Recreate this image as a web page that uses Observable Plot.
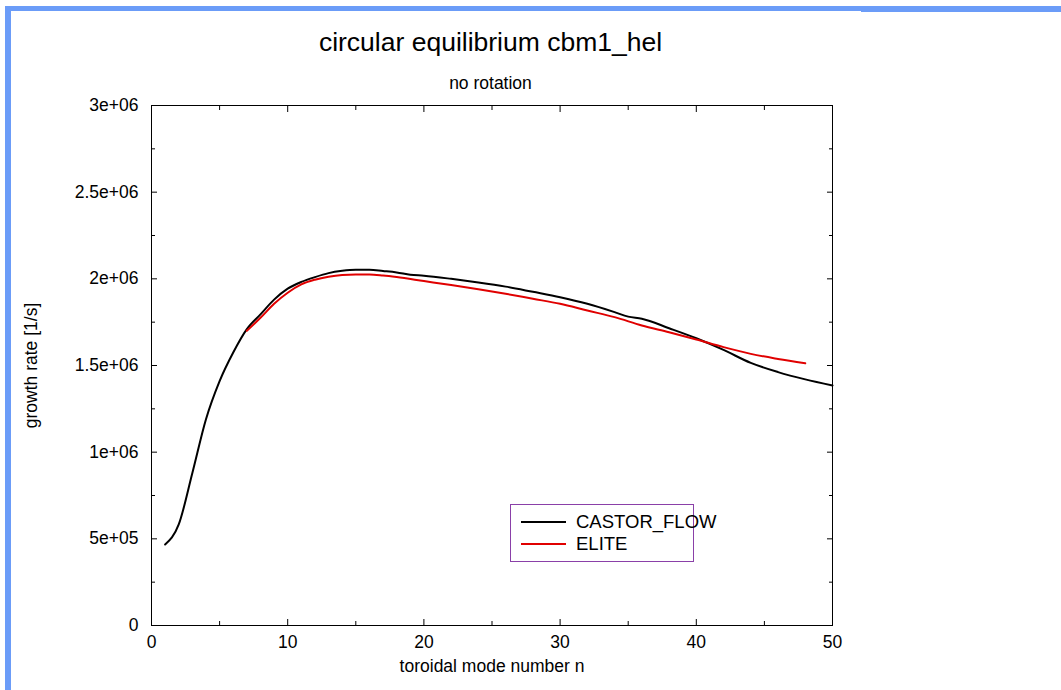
<!DOCTYPE html>
<html>
<head>
<meta charset="utf-8">
<script src="https://cdn.jsdelivr.net/npm/d3@7"></script>
<script src="https://cdn.jsdelivr.net/npm/@observablehq/plot@0.6"></script>
<style>
  html, body { margin: 0; padding: 0; background: #fff; }
  #wrap { position: relative; width: 1061px; height: 690px; overflow: hidden; font-family: "Liberation Sans", Arial, sans-serif; color: #000; }
  #wrap svg.plot { position: absolute; left: 0; top: 0; }
  .bar-top { position: absolute; left: 5px; top: 6px; width: 1056px; height: 5px; background: #6b9cf8; }
  .bar-top2 { position: absolute; left: 861px; top: 11px; width: 200px; height: 1px; background: #6b9cf8; }
  .bar-left { position: absolute; left: 5px; top: 6px; width: 6px; height: 684px; background: #6b9cf8; }
  .title { position: absolute; left: 0; width: 981px; text-align: center; top: 27px; font-size: 26.5px; }
  .subtitle { position: absolute; left: 0; width: 981px; text-align: center; top: 73px; font-size: 17.5px; }
  .legend { position: absolute; left: 510px; top: 504px; width: 182px; height: 56px; border: 1px solid #8a40a8; box-sizing: content-box; }
  .legend .row { position: absolute; left: 10px; height: 20px; font-size: 18.5px; white-space: nowrap; }
  .legend .row span.sw { position: absolute; left: 0; top: 9px; width: 45px; height: 2px; }
  .legend .row span.lab { position: absolute; left: 55px; top: 0; line-height: 20px; }
</style>
</head>
<body>
<div id="wrap">
  <div class="bar-top"></div>
  <div class="bar-top2"></div>
  <div class="bar-left"></div>
  <div class="title">circular equilibrium cbm1_hel</div>
  <div class="subtitle">no rotation</div>
</div>
<script>
// ---- data ----
const seriesNames = ["CASTOR_FLOW", "ELITE"];
const seriesColors = ["#000000", "#e00000"];

const castorN = [1, 2, 3, 4, 5, 6, 7, 8, 9, 10, 11, 12, 13, 14, 15, 16, 17, 18, 19, 20, 22, 24, 26, 28, 30, 32, 34, 35, 36, 38, 40, 42, 44, 46, 48, 50];
const castorRate = [0.467e6, 0.583e6, 0.88e6, 1.19e6, 1.41e6, 1.575e6, 1.71e6, 1.795e6, 1.88e6, 1.943e6, 1.982e6, 2.01e6, 2.033e6, 2.046e6, 2.052e6, 2.052e6, 2.045e6, 2.037e6, 2.024e6, 2.018e6, 2.0e6, 1.979e6, 1.955e6, 1.925e6, 1.894e6, 1.856e6, 1.808e6, 1.782e6, 1.77e6, 1.715e6, 1.657e6, 1.59e6, 1.515e6, 1.462e6, 1.42e6, 1.385e6];

const eliteN = [7, 8, 9, 10, 11, 12, 13, 14, 15, 16, 17, 18, 20, 22, 24, 26, 28, 30, 32, 34, 36, 38, 40, 42, 44, 46, 48];
const eliteRate = [1.70e6, 1.775e6, 1.856e6, 1.92e6, 1.968e6, 1.995e6, 2.012e6, 2.022e6, 2.025e6, 2.025e6, 2.019e6, 2.01e6, 1.987e6, 1.964e6, 1.94e6, 1.914e6, 1.885e6, 1.856e6, 1.817e6, 1.779e6, 1.731e6, 1.692e6, 1.65e6, 1.606e6, 1.567e6, 1.538e6, 1.513e6];

const xMajorTicks = [0, 10, 20, 30, 40, 50];
const xMinorTicks = [5, 15, 25, 35, 45];
const yMajorTicks = [0, 0.5e6, 1e6, 1.5e6, 2e6, 2.5e6, 3e6];
const yMinorTicks = [0.25e6, 0.75e6, 1.25e6, 1.75e6, 2.25e6, 2.75e6];
const yTickLabels = ["0", "5e+05", "1e+06", "1.5e+06", "2e+06", "2.5e+06", "3e+06"];

const xLabel = "toroidal mode number n";
const yLabel = "growth rate [1/s]";

// ---- build ----
const rows = [
  ...castorN.map((n, i) => ({n, rate: castorRate[i], series: seriesNames[0]})),
  ...eliteN.map((n, i) => ({n, rate: eliteRate[i], series: seriesNames[1]}))
];

const chart = Plot.plot({
  width: 1061,
  height: 690,
  marginLeft: 151,
  marginRight: 229,
  marginTop: 105,
  marginBottom: 65,
  style: {fontFamily: "Liberation Sans, Arial, sans-serif", fontSize: "17.5px", color: "#000", background: "transparent", overflow: "visible"},
  x: {domain: [0, 50]},
  y: {domain: [0, 3e6]},
  color: {domain: seriesNames, range: seriesColors},
  marks: [
    Plot.frame({stroke: "#000", strokeWidth: 1}),
    // labels
    Plot.axisX({anchor: "bottom", ticks: xMajorTicks, tickSize: 0, tickPadding: 10, tickFormat: d => String(d), label: xLabel, labelAnchor: "center", labelOffset: 46, labelArrow: "none", fontSize: 17.5}),
    Plot.axisY({anchor: "left", ticks: yMajorTicks, tickSize: 0, tickPadding: 13, tickFormat: d => yTickLabels[yMajorTicks.indexOf(d)], label: yLabel, labelAnchor: "center", labelOffset: 127, labelArrow: "none", fontSize: 17.5}),
    // inward ticks
    Plot.axisX({anchor: "bottom", ticks: xMajorTicks, tickSize: -6, tickFormat: () => "", label: null}),
    Plot.axisX({anchor: "bottom", ticks: xMinorTicks, tickSize: -4, tickFormat: () => "", label: null}),
    Plot.axisX({anchor: "top", ticks: xMajorTicks, tickSize: -6, tickFormat: () => "", label: null}),
    Plot.axisX({anchor: "top", ticks: xMinorTicks, tickSize: -4, tickFormat: () => "", label: null}),
    Plot.axisY({anchor: "left", ticks: yMajorTicks, tickSize: -6, tickFormat: () => "", label: null}),
    Plot.axisY({anchor: "left", ticks: yMinorTicks, tickSize: -4, tickFormat: () => "", label: null}),
    Plot.axisY({anchor: "right", ticks: yMajorTicks, tickSize: -6, tickFormat: () => "", label: null}),
    Plot.axisY({anchor: "right", ticks: yMinorTicks, tickSize: -4, tickFormat: () => "", label: null}),
    Plot.line(rows, {x: "n", y: "rate", z: "series", stroke: "series", strokeWidth: 2, curve: "monotone-x"})
  ]
});
chart.classList.add("plot");
const wrap = document.getElementById("wrap");
wrap.insertBefore(chart, wrap.querySelector(".title"));

// legend
const legend = document.createElement("div");
legend.className = "legend";
seriesNames.forEach((name, i) => {
  const row = document.createElement("div");
  row.className = "row";
  row.style.top = (7 + i * 22) + "px";
  row.innerHTML = `<span class="sw" style="background:${seriesColors[i]}"></span><span class="lab">${name}</span>`;
  legend.appendChild(row);
});
wrap.appendChild(legend);
</script>
</body>
</html>
